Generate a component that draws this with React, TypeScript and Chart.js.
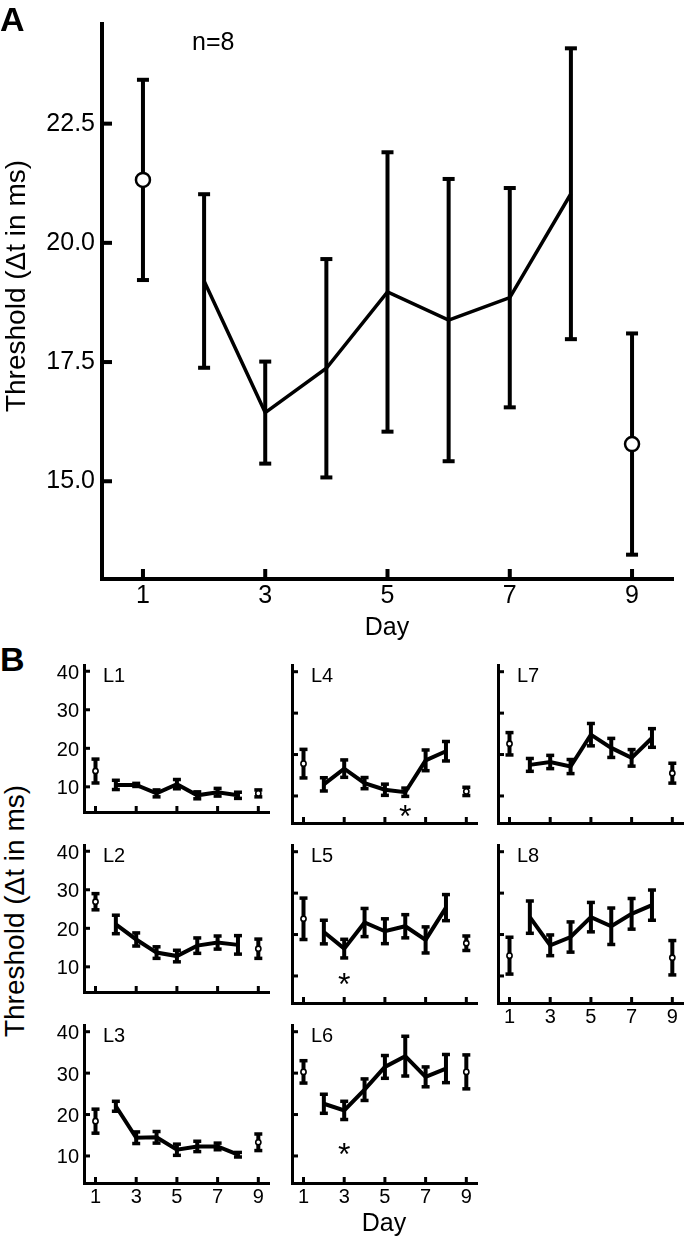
import React, { useEffect, useRef } from "react";
import { Chart, registerables } from "chart.js";

Chart.register(...registerables);

const FONT = "'Liberation Sans', Arial, Helvetica, sans-serif";

// ---------- data ----------
const DAYS = [1, 2, 3, 4, 5, 6, 7, 8, 9];
const X_TICKS = [1, 3, 5, 7, 9];
const A_Y_TICKS = [15, 17.5, 20, 22.5];
const B_Y_TICKS = [10, 20, 30, 40];

// Panel A (group mean, n=8)
const A_MEAN = [21.32, 19.2, 16.44, 17.37, 18.97, 18.38, 18.85, 21.03, 15.78];
const A_SEM = [2.1, 1.82, 1.07, 2.29, 2.93, 2.96, 2.3, 3.05, 2.32];

// Panel B (individual animals)
const L1_MEAN = [14.1, 10.5, 10.5, 8.3, 10.7, 7.8, 8.6, 7.8, 8.3];
const L1_SEM = [3.1, 1.2, 0.4, 0.9, 1.2, 0.9, 1.0, 0.8, 0.9];
const L2_MEAN = [26.9, 21.0, 17.1, 13.7, 12.8, 15.5, 16.3, 15.7, 14.7];
const L2_SEM = [2.1, 2.4, 1.7, 1.5, 1.5, 2.0, 1.7, 2.4, 2.5];
const L3_MEAN = [18.4, 22.0, 14.4, 14.5, 11.5, 12.3, 12.3, 10.3, 13.3];
const L3_SEM = [2.9, 1.2, 1.4, 1.4, 1.35, 1.25, 0.8, 0.55, 2.0];
const L4_MEAN = [17.8, 12.8, 16.6, 13.1, 11.5, 10.9, 18.6, 20.8, 11.1];
const L4_SEM = [3.45, 1.6, 2.1, 1.35, 1.35, 1.0, 2.5, 2.35, 1.0];
const L5_MEAN = [23.8, 20.6, 16.6, 22.9, 20.8, 22.0, 18.7, 26.5, 17.9];
const L5_SEM = [5.0, 2.85, 2.25, 3.4, 3.0, 2.8, 3.15, 3.15, 1.75];
const L6_MEAN = [30.3, 22.6, 21.0, 26.0, 31.5, 34.1, 29.1, 31.1, 30.3];
const L6_SEM = [2.7, 2.3, 2.2, 2.6, 2.75, 4.8, 2.4, 3.4, 4.1];
const L7_MEAN = [22.6, 17.5, 18.2, 17.1, 24.8, 21.6, 19.2, 24.0, 15.5];
const L7_SEM = [2.7, 1.55, 1.6, 1.7, 2.7, 2.3, 2.0, 2.25, 2.4];
const L8_MEAN = [14.9, 24.2, 17.4, 19.4, 24.2, 22.0, 25.0, 27.1, 14.4];
const L8_SEM = [4.45, 3.9, 2.5, 3.65, 3.55, 4.4, 3.7, 3.65, 4.15];

// significance markers: [day, value]
const L4_STARS = [[6, 7.0]];
const L5_STARS = [[3, 9.7]];
const L6_STARS = [[3, 12.2]];

type Spec = {
  mean: number[];
  sem: number[];
  left: number;
  top: number;
  w: number;
  h: number;
  padL: number;
  padT: number;
  padR: number;
  padB: number;
  xMin: number;
  xMax: number;
  yMin: number;
  yMax: number;
  yTicks: number[];
  showX: boolean;
  showY: boolean;
  yFmt: (v: number) => string;
  font: number;
  xPad: number;
  yPad: number;
  yLabelOffset: number;
  axisW: number;
  tickLen: number;
  tickW: number;
  lineW: number;
  barW: number;
  capW: number;
  capH: number;
  circR: number;
  circBW: number;
  notes: { text: string; dx: number; dy: number; size: number }[];
  stars: number[][];
  starSize: number;
};

function Panel({ spec }: { spec: Spec }) {
  const ref = useRef<HTMLCanvasElement>(null);
  const W = spec.w + spec.padL + spec.padR;
  const H = spec.h + spec.padT + spec.padB;

  useEffect(() => {
    const s = spec;
    const canvas = ref.current;
    if (!canvas) return;

    const errPlugin = {
      id: "errbars",
      beforeDatasetsDraw(chart: any) {
        const { ctx } = chart;
        const x = chart.scales.x;
        const y = chart.scales.y;
        ctx.save();
        ctx.fillStyle = "#000";
        DAYS.forEach((d, i) => {
          const px = x.getPixelForValue(d);
          const hi = y.getPixelForValue(s.mean[i] + s.sem[i]);
          const lo = y.getPixelForValue(s.mean[i] - s.sem[i]);
          ctx.fillRect(px - s.barW / 2, hi, s.barW, lo - hi);
          ctx.fillRect(px - s.capW / 2, hi - s.capH / 2, s.capW, s.capH);
          ctx.fillRect(px - s.capW / 2, lo - s.capH / 2, s.capW, s.capH);
        });
        ctx.restore();
      },
    };

    const decoPlugin = {
      id: "deco",
      afterDraw(chart: any) {
        const { ctx, chartArea } = chart;
        const x = chart.scales.x;
        const y = chart.scales.y;
        ctx.save();
        ctx.fillStyle = "#000";
        X_TICKS.forEach((v) => {
          const px = x.getPixelForValue(v);
          ctx.fillRect(px - s.tickW / 2, chartArea.bottom - s.tickLen, s.tickW, s.tickLen);
        });
        s.yTicks.forEach((v) => {
          const py = y.getPixelForValue(v);
          ctx.fillRect(chartArea.left, py - s.tickW / 2, s.tickLen, s.tickW);
        });
        ctx.textBaseline = "alphabetic";
        ctx.textAlign = "left";
        s.notes.forEach((n) => {
          ctx.font = `${n.size}px ${FONT}`;
          ctx.fillText(n.text, chartArea.left + n.dx, chartArea.top + n.dy);
        });
        ctx.textAlign = "center";
        ctx.font = `${s.starSize}px ${FONT}`;
        s.stars.forEach(([d, v]) => {
          ctx.fillText("*", x.getPixelForValue(d), y.getPixelForValue(v) + 0.57 * s.starSize);
        });
        ctx.restore();
      },
    };

    const tickFont = { family: FONT, size: s.font };

    const chart = new Chart(canvas, {
      type: "line",
      data: {
        datasets: [
          {
            data: DAYS.slice(1, 8).map((d, i) => ({ x: d, y: s.mean[i + 1] })),
            borderColor: "#000",
            borderWidth: s.lineW,
            pointRadius: 0,
            fill: false,
            tension: 0,
          },
          {
            data: [0, 8].map((i) => ({ x: DAYS[i], y: s.mean[i] })),
            showLine: false,
            pointRadius: s.circR,
            pointBorderWidth: s.circBW,
            pointBackgroundColor: "#fff",
            pointBorderColor: "#000",
            pointStyle: "circle",
          },
        ],
      },
      options: {
        animation: false,
        responsive: false,
        devicePixelRatio: 1,
        events: [],
        layout: {
          autoPadding: false,
          padding: { left: 0, top: s.padT, right: s.padR, bottom: 0 },
        },
        plugins: { legend: { display: false }, tooltip: { enabled: false } },
        scales: {
          x: {
            type: "linear",
            min: s.xMin,
            max: s.xMax,
            afterBuildTicks: (sc: any) => {
              sc.ticks = X_TICKS.map((v) => ({ value: v }));
            },
            afterFit: (sc: any) => {
              sc.height = s.padB;
            },
            grid: { display: false, drawTicks: false },
            border: { display: true, color: "#000", width: s.axisW },
            ticks: {
              display: s.showX,
              padding: s.xPad,
              font: tickFont,
              color: "#000",
              maxRotation: 0,
              autoSkip: false,
              callback: (v: any) => String(v),
            },
          },
          y: {
            type: "linear",
            min: s.yMin,
            max: s.yMax,
            afterBuildTicks: (sc: any) => {
              sc.ticks = s.yTicks.map((v) => ({ value: v }));
            },
            afterFit: (sc: any) => {
              sc.width = s.padL;
            },
            grid: { display: false, drawTicks: false },
            border: { display: true, color: "#000", width: s.axisW },
            ticks: {
              display: s.showY,
              padding: s.yPad,
              labelOffset: s.yLabelOffset,
              font: tickFont,
              color: "#000",
              autoSkip: false,
              callback: (v: any) => s.yFmt(Number(v)),
            },
          },
        },
      } as any,
      plugins: [errPlugin, decoPlugin],
    });
    return () => chart.destroy();
  }, [spec]);

  return (
    <canvas
      ref={ref}
      width={W}
      height={H}
      style={{
        position: "absolute",
        left: spec.left - spec.padL,
        top: spec.top - spec.padT,
        width: W,
        height: H,
      }}
    />
  );
}

const SPEC_A: Spec = {
  mean: A_MEAN,
  sem: A_SEM,
  left: 102,
  top: 24,
  w: 571,
  h: 555,
  padL: 102,
  padT: 24,
  padR: 12,
  padB: 36,
  xMin: 0.33,
  xMax: 9.67,
  yMin: 12.95,
  yMax: 24.59,
  yTicks: A_Y_TICKS,
  showX: true,
  showY: true,
  yFmt: (v) => v.toFixed(1),
  font: 25,
  xPad: 2,
  yPad: 7,
  yLabelOffset: 0,
  axisW: 4,
  tickLen: 10,
  tickW: 4,
  lineW: 3.5,
  barW: 4,
  capW: 12,
  capH: 4,
  circR: 7,
  circBW: 2.5,
  notes: [{ text: "n=8", dx: 90, dy: 26, size: 25 }],
  stars: [],
  starSize: 28,
};

const COL_LEFT = [84, 292, 498];
const ROW_TOP = [665, 845, 1025];

function bSpec(
  mean: number[],
  sem: number[],
  col: number,
  row: number,
  label: string,
  showX: boolean,
  stars: number[][]
): Spec {
  const showY = col === 0;
  return {
    mean,
    sem,
    left: COL_LEFT[col],
    top: ROW_TOP[row],
    w: 185,
    h: 158,
    padL: showY ? 44 : 10,
    padT: 18,
    padR: 10,
    padB: showX ? 32 : 6,
    xMin: 0.435,
    xMax: 9.525,
    yMin: 3.47,
    yMax: 41.62,
    yTicks: B_Y_TICKS,
    showX,
    showY,
    yFmt: (v) => String(v),
    font: 20,
    xPad: 2,
    yPad: 5,
    yLabelOffset: 2,
    axisW: 3,
    tickLen: 6,
    tickW: 3,
    lineW: 4,
    barW: 4,
    capW: 8,
    capH: 3.5,
    circR: 2.6,
    circBW: 1.6,
    notes: [{ text: label, dx: 19, dy: 17, size: 20 }],
    stars,
    starSize: 32,
  };
}

const B_SPECS: Spec[] = [
  bSpec(L1_MEAN, L1_SEM, 0, 0, "L1", false, []),
  bSpec(L2_MEAN, L2_SEM, 0, 1, "L2", false, []),
  bSpec(L3_MEAN, L3_SEM, 0, 2, "L3", true, []),
  bSpec(L4_MEAN, L4_SEM, 1, 0, "L4", false, L4_STARS),
  bSpec(L5_MEAN, L5_SEM, 1, 1, "L5", false, L5_STARS),
  bSpec(L6_MEAN, L6_SEM, 1, 2, "L6", true, L6_STARS),
  bSpec(L7_MEAN, L7_SEM, 2, 0, "L7", false, []),
  bSpec(L8_MEAN, L8_SEM, 2, 1, "L8", true, []),
];

const Y_TITLE = "Threshold (\u0394t in ms)";

function RotTitle({ cx, cy, size, text }: { cx: number; cy: number; size: number; text: string }) {
  return (
    <div
      style={{
        position: "absolute",
        left: cx,
        top: cy,
        transform: "translate(-50%, -50%) rotate(-90deg)",
        whiteSpace: "nowrap",
        fontSize: size,
        lineHeight: `${size}px`,
      }}
    >
      {text}
    </div>
  );
}

function CenterText({ cx, top, size, text, bold }: { cx: number; top: number; size: number; text: string; bold?: boolean }) {
  return (
    <div
      style={{
        position: "absolute",
        left: cx,
        top,
        transform: "translateX(-50%)",
        whiteSpace: "nowrap",
        fontSize: size,
        lineHeight: `${size}px`,
        fontWeight: bold ? "bold" : "normal",
      }}
    >
      {text}
    </div>
  );
}

export default function App() {
  return (
    <div
      style={{
        position: "absolute",
        left: 0,
        top: 0,
        width: 685,
        height: 1238,
        overflow: "hidden",
        background: "#fff",
        color: "#000",
        fontFamily: FONT,
      }}
    >
      <Panel spec={SPEC_A} />
      {B_SPECS.map((s, i) => (
        <Panel key={i} spec={s} />
      ))}
      <div style={{ position: "absolute", left: 0, top: 2, fontSize: 34, lineHeight: "34px", fontWeight: "bold" }}>A</div>
      <div style={{ position: "absolute", left: 0, top: 642, fontSize: 34, lineHeight: "34px", fontWeight: "bold" }}>B</div>
      <RotTitle cx={16} cy={286} size={28} text={Y_TITLE} />
      <RotTitle cx={15} cy={911} size={28} text={Y_TITLE} />
      <CenterText cx={387} top={614} size={25} text="Day" />
      <CenterText cx={384} top={1210} size={25} text="Day" />
    </div>
  );
}
